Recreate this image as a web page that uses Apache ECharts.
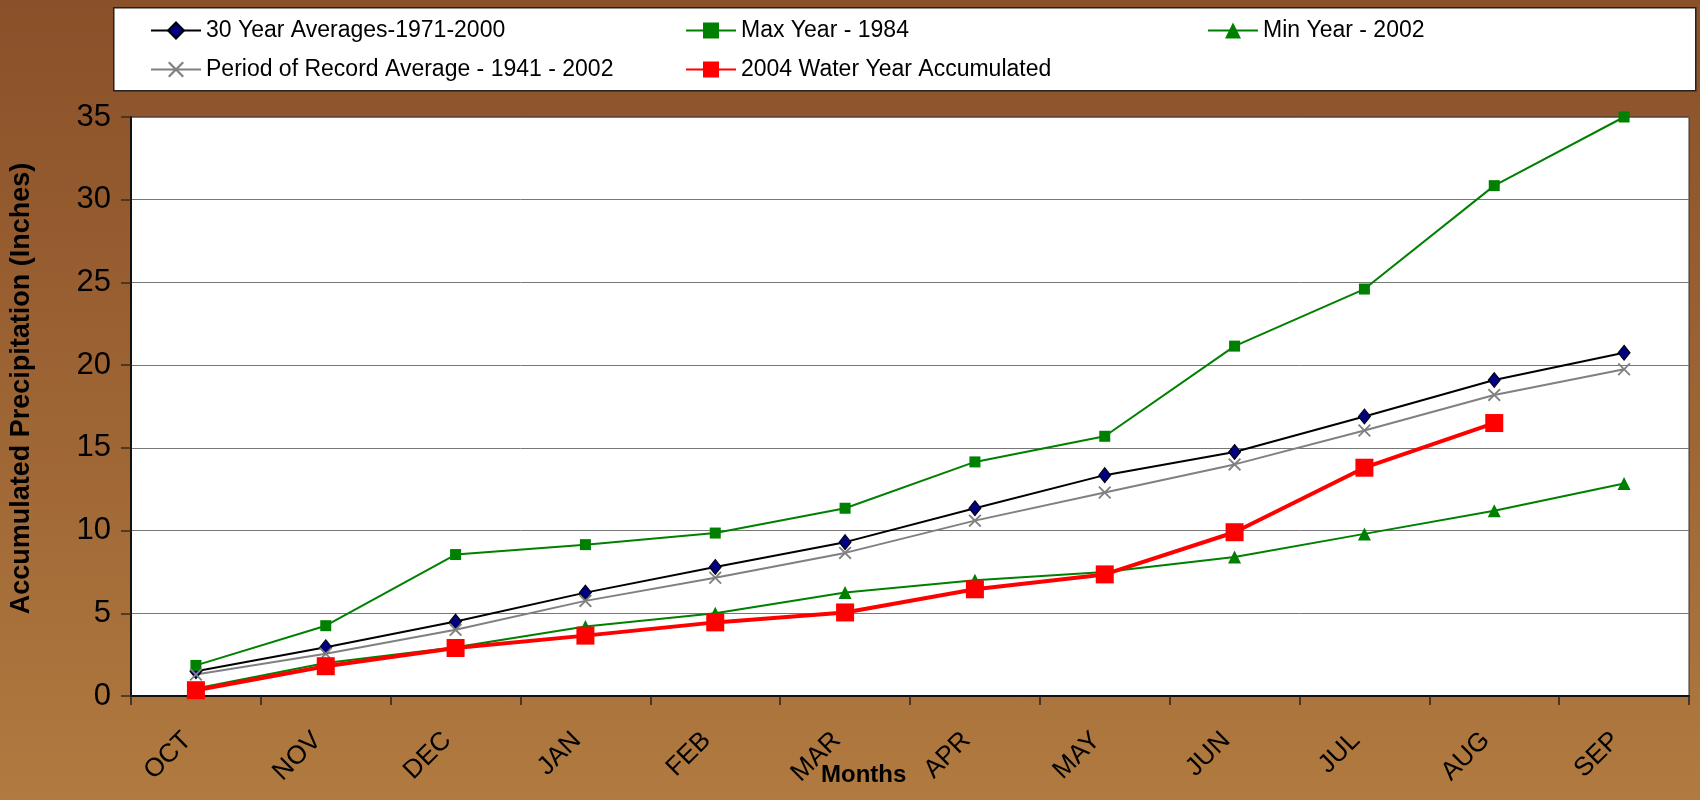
<!DOCTYPE html>
<html>
<head>
<meta charset="utf-8">
<script src="https://cdn.jsdelivr.net/npm/echarts@6/dist/echarts.min.js"></script>
<style>
html,body{margin:0;padding:0;}
body{background:linear-gradient(to bottom,#8a5029 0%,#9d6434 50%,#b07a40 100%);}
#chart{width:1700px;height:800px;}
</style>
</head>
<body>
<div id="chart"></div>
<script>
let months=["OCT","NOV","DEC","JAN","FEB","MAR","APR","MAY","JUN","JUL","AUG","SEP"];
let avg30=[1.5,2.95,4.5,6.25,7.8,9.3,11.35,13.35,14.75,16.9,19.1,20.75];
let max1984=[1.85,4.25,8.55,9.15,9.85,11.35,14.15,15.7,21.15,24.6,30.85,35];
let min2002=[0.45,2.0,2.95,4.2,5.0,6.25,7.0,7.5,8.4,9.8,11.2,12.85];
let porAvg=[1.3,2.55,4.0,5.75,7.15,8.65,10.6,12.3,14.0,16.05,18.2,19.75];
let wy2004=[0.35,1.8,2.9,3.65,4.45,5.05,6.45,7.35,9.9,13.8,16.5,null];
let yTicks=[0,5,10,15,20,25,30,35];

let names=["30 Year Averages-1971-2000","Max Year - 1984","Min Year - 2002",
    "Period of Record Average - 1941 - 2002","2004 Water Year Accumulated"];

// X-shaped marker drawn as a filled outline
let xMark="path://M0,1L1,0L5,4L9,0L10,1L6,5L10,9L9,10L5,6L1,10L0,9L4,5Z";

let legendBase={
    orient:"vertical",
    top:14,
    itemWidth:50,
    itemHeight:20,
    itemGap:16,
    textStyle:{fontFamily:"Liberation Sans",fontSize:23,color:"#000"},
    inactiveColor:"#999"
};

var myChart=echarts.init(document.getElementById("chart"));
var option={
    backgroundColor:"transparent",
    animation:false,
    graphic:[{
        type:"rect",
        left:113,top:7,z:-1,
        shape:{width:1582,height:83},
        style:{fill:"#fff",stroke:"#222",lineWidth:1.5}
    },{
        type:"text",
        left:821,top:763,
        style:{text:"Months",fontFamily:"Liberation Sans",fontWeight:"bold",fontSize:24,fill:"#000"}
    }],
    legend:[
        Object.assign({},legendBase,{left:145,data:[names[0],names[3]]}),
        Object.assign({},legendBase,{left:680,data:[names[1],names[4]]}),
        Object.assign({},legendBase,{left:1202,data:[names[2]]})
    ],
    grid:{
        left:128,right:11,top:117,bottom:104,
        show:true,backgroundColor:"#fff",borderColor:"#333",borderWidth:1
    },
    xAxis:{
        type:"category",
        data:months,
        boundaryGap:true,
        axisLine:{lineStyle:{color:"#111",width:2}},
        axisTick:{show:true,length:9,lineStyle:{color:"#222",width:1.5}},
        axisLabel:{rotate:45,margin:32,padding:[0,12,0,0],fontFamily:"Liberation Sans",fontSize:26,color:"#000"}
    },
    yAxis:{
        type:"value",
        min:0,max:35,interval:5,
        name:"Accumulated Precipitation (Inches)",
        nameLocation:"middle",
        nameGap:96,
        nameTextStyle:{fontFamily:"Liberation Sans",fontWeight:"bold",fontSize:27,color:"#000",padding:[0,0,0,36]},
        axisLine:{show:true,lineStyle:{color:"#111",width:2}},
        axisTick:{show:true,length:10,lineStyle:{color:"#3a2a1a",width:1.5}},
        axisLabel:{margin:20,fontFamily:"Liberation Sans",fontSize:31,color:"#000",
            formatter:function(v){return yTicks.indexOf(v)>=0?String(v):"";}},
        splitLine:{lineStyle:{color:"#777",width:1}}
    },
    series:[{
        name:names[0],type:"line",data:avg30,
        symbol:"diamond",symbolSize:[12,15],
        lineStyle:{color:"#000",width:2},
        itemStyle:{color:"#000080",borderColor:"#000",borderWidth:1}
    },{
        name:names[1],type:"line",data:max1984,
        symbol:"rect",symbolSize:11,
        lineStyle:{color:"#008000",width:2},
        itemStyle:{color:"#008000"}
    },{
        name:names[2],type:"line",data:min2002,
        symbol:"triangle",symbolSize:13,
        lineStyle:{color:"#008000",width:2},
        itemStyle:{color:"#008000"}
    },{
        name:names[3],type:"line",data:porAvg,
        symbol:xMark,symbolSize:13,
        lineStyle:{color:"#808080",width:2},
        itemStyle:{color:"#808080"}
    },{
        name:names[4],type:"line",data:wy2004,
        symbol:"rect",symbolSize:18,
        lineStyle:{color:"#ff0000",width:4},
        itemStyle:{color:"#ff0000"}
    }]
};
myChart.setOption(option);
</script>
</body>
</html>
